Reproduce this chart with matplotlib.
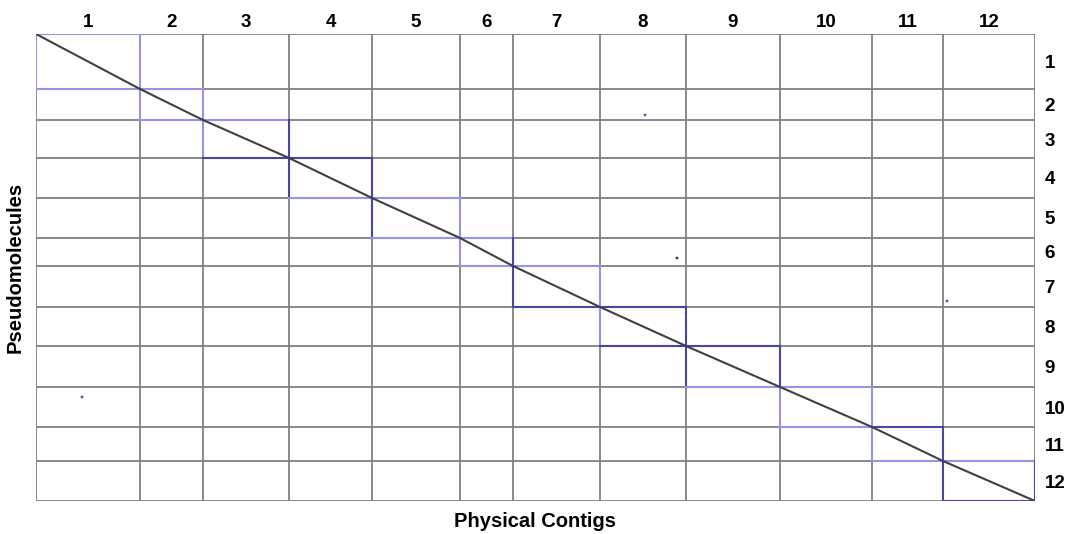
import matplotlib.pyplot as plt

# contig / pseudomolecule sizes (relative units)
contig_labels = ['1', '2', '3', '4', '5', '6', '7', '8', '9', '10', '11', '12']
contig_len = [104, 63, 86, 83, 88, 53, 87, 86, 94, 92, 71, 92]
pseudo_labels = ['1', '2', '3', '4', '5', '6', '7', '8', '9', '10', '11', '12']
pseudo_len = [55, 31, 38, 40, 40, 28, 41, 39, 41, 40, 34, 40]

# outline shade of each diagonal block: top, left, right, bottom (L light, D dark)
box_edges = ['LLLL', 'LLLL', 'LLDD', 'DDDL', 'LDLL', 'LLDL',
             'LDLD', 'DLDD', 'DDDL', 'LLLL', 'DLDL', 'LDDD']

# a few conspicuous stray dots (x, y, colour)
stray_x = [609, 46, 911, 641]
stray_y = [81, 363, 267, 224]
stray_c = ['#5050c0', '#5050c0', '#5050c0', '#333333']

# cumulative boundaries
xb = [0]
for v in contig_len:
    xb.append(xb[-1] + v)
yb = [0]
for v in pseudo_len:
    yb.append(yb[-1] + v)

plt.rcParams['font.family'] = ['Liberation Sans', 'DejaVu Sans']

fig = plt.figure(figsize=(10.67, 5.34), dpi=100)
ax = fig.add_axes([36 / 1067, 1 - 501 / 534, 999 / 1067, 467 / 534])
ax.set_xlim(0, xb[-1])
ax.set_ylim(yb[-1], 0)

grid_c = '#808080'
for x in xb:
    ax.axvline(x, color=grid_c, lw=1.3, zorder=1)
for y in yb:
    ax.axhline(y, color=grid_c, lw=1.3, zorder=1)

shade = {'L': '#9494ec', 'D': '#4646a8'}
for i, e in enumerate(box_edges):
    x0, x1 = xb[i], xb[i + 1]
    y0, y1 = yb[i], yb[i + 1]
    ax.plot([x0, x1], [y0, y0], color=shade[e[0]], lw=1.5, zorder=2)
    ax.plot([x0, x0], [y0, y1], color=shade[e[1]], lw=1.5, zorder=2)
    ax.plot([x1, x1], [y0, y1], color=shade[e[2]], lw=1.5, zorder=2)
    ax.plot([x0, x1], [y1, y1], color=shade[e[3]], lw=1.5, zorder=2)

# alignment diagonal through the blocks
ax.plot(xb, yb, color='#404040', lw=1.5, zorder=3)

ax.scatter(stray_x, stray_y, s=4, c=stray_c, zorder=3, linewidths=0)

for s in ax.spines.values():
    s.set_visible(False)

centers_x = [(xb[i] + xb[i + 1]) / 2 for i in range(len(contig_len))]
centers_y = [(yb[i] + yb[i + 1]) / 2 for i in range(len(pseudo_len))]
ax.xaxis.tick_top()
ax.yaxis.tick_right()
ax.set_xticks(centers_x)
ax.set_xticklabels(contig_labels, fontsize=13.5, fontweight='bold')
ax.set_yticks(centers_y)
ax.set_yticklabels(pseudo_labels, fontsize=13.5, fontweight='bold')
ax.tick_params(axis='x', length=0, pad=2)
ax.tick_params(axis='y', length=0, pad=7)

ax.xaxis.set_label_position('bottom')
ax.yaxis.set_label_position('left')
ax.set_xlabel('Physical Contigs', fontsize=14.5, fontweight='bold', labelpad=8)
ax.set_ylabel('Pseudomolecules', fontsize=14.5, fontweight='bold', labelpad=8)

fig.savefig('out.png', dpi=100)
